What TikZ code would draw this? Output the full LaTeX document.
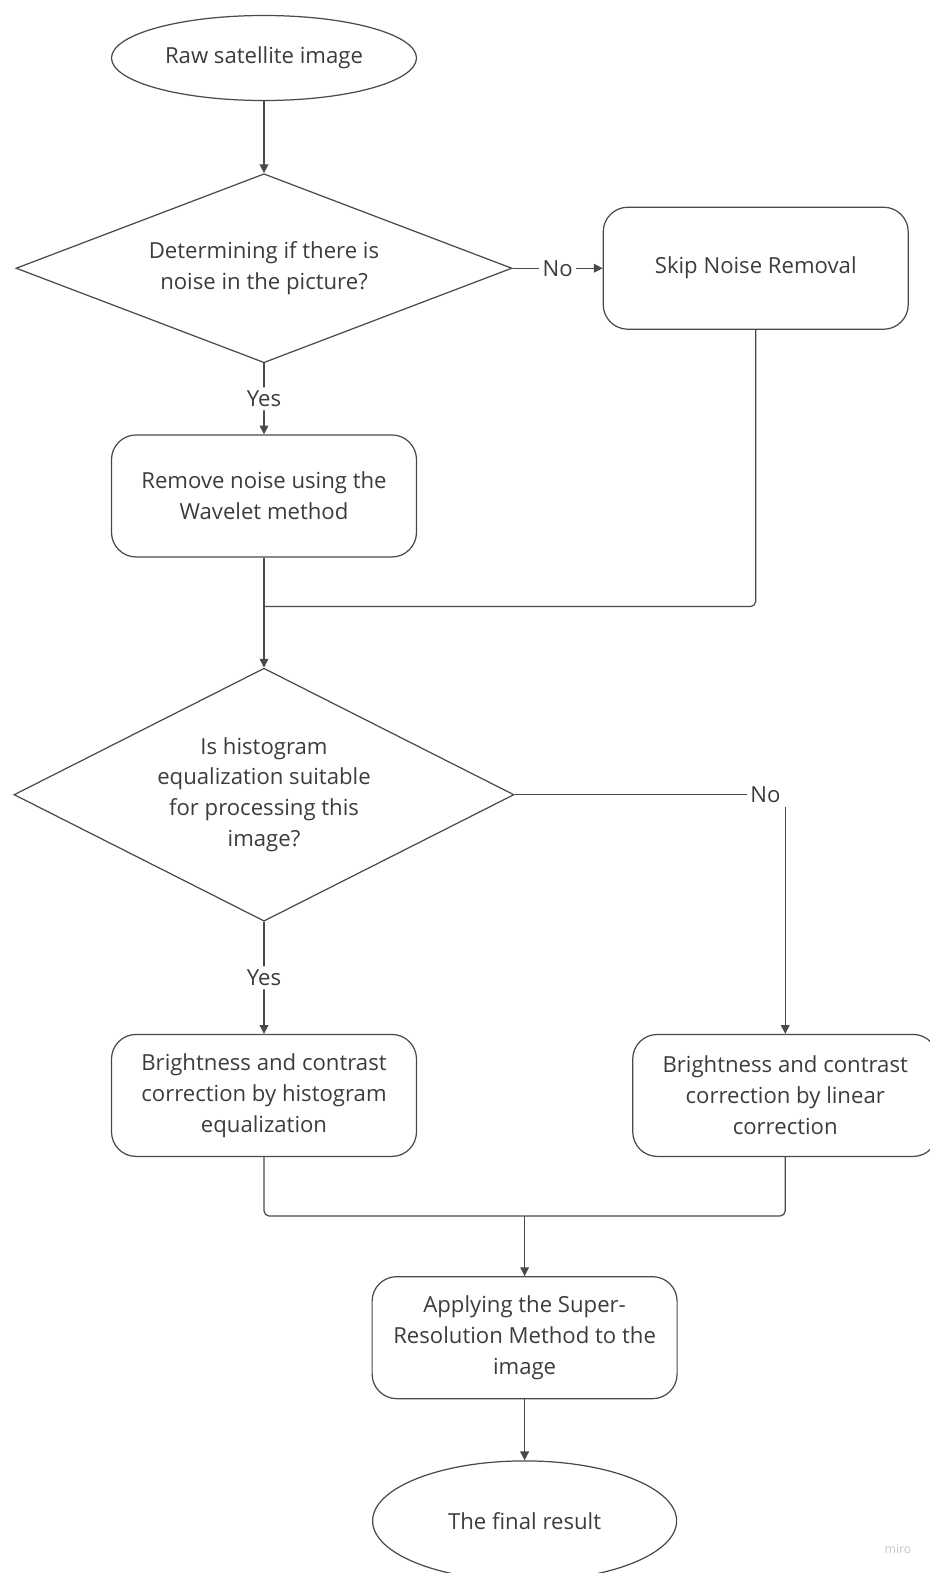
\documentclass[tikz,border=0pt]{standalone}
\usepackage{fontspec}
\setmainfont{Open Sans}
\usetikzlibrary{positioning, arrows.meta, shapes.geometric, calc}

\definecolor{inkgray}{HTML}{3C3C3C}
\definecolor{edgegray}{HTML}{4A4A4A}

\begin{document}
\begin{tikzpicture}[
        node distance=1.4cm and 1.8cm,
        every node/.style={text=inkgray, font=\fontsize{12.6}{17.6}\selectfont},
        procbox/.style={rectangle, rounded corners=14pt, draw=edgegray, line width=0.7pt, minimum width=6.1cm, minimum height=2.44cm, align=center, inner sep=2pt},
        decbox/.style={diamond, draw=edgegray, line width=0.7pt, align=center, inner sep=0pt},
        termbox/.style={ellipse, draw=edgegray, line width=0.7pt, minimum width=6.1cm, align=center, inner sep=0pt},
        lbl/.style={fill=white, inner sep=2pt},
        conn/.style={draw=edgegray, line width=0.7pt, rounded corners=3pt},
        arr/.style={conn, -{Triangle[length=5pt, width=5pt]}},
    ]
        \useasboundingbox (0,0) rectangle (18.58,-31.46);

        \node[termbox, minimum height=1.7cm] (raw) at (5.28,-1.16) {Raw satellite image};
        \node[decbox, shape aspect=2.62, minimum width=9.92cm, minimum height=3.78cm, below=1.44cm of raw] (noiseq) {Determining if there is\\noise in the picture?};
        \node[procbox, right=1.8cm of noiseq] (skip) {Skip Noise Removal};
        \node[procbox, below=1.42cm of noiseq] (wavelet) {Remove noise using the\\Wavelet method};

        \node[decbox, shape aspect=1.98, minimum width=10cm, minimum height=5.06cm, below=2.2cm of wavelet] (histq) {Is histogram\\equalization suitable\\for processing this\\image?};
        \node[procbox, below=2.24cm of histq] (histeq) {Brightness and contrast\\correction by histogram\\equalization};
        \node[procbox, right=4.3cm of histeq] (lincorr) {Brightness and contrast\\correction by linear\\correction};

        \node[procbox, below=2.38cm of $(histeq.south)!0.5!(lincorr.south)$] (superres) {Applying the Super-\\Resolution Method to the\\image};
        \node[termbox, minimum width=6.08cm, minimum height=2.4cm, below=1.22cm of superres] (final) {The final result};

        \node[lbl, right=4.64cm of histq.east] (nohist) {No};
        \node[text=gray!45, font=\fontsize{7}{8}\selectfont] (brand) at (17.96,-30.98) {miro};

        \coordinate (joinA) at ($(wavelet.south)+(0,-0.98)$);
        \coordinate (joinB) at ($(superres.north)+(0,1.2)$);

        % first branch
        \draw[arr] (raw) -- (noiseq);
        \draw[arr] (noiseq.east) -- node[lbl] {No} (skip.west);
        \draw[arr] (noiseq.south) -- node[lbl] {Yes} (wavelet.north);
        \draw[conn] (skip.south) |- (joinA);
        \draw[arr] (wavelet.south) -- (histq.north);

        % second branch
        \draw[conn] (histq.east) -- (nohist.west);
        \draw[arr] (nohist.south -| lincorr.north) -- (lincorr.north);
        \draw[arr] (histq.south) -- node[lbl] {Yes} (histeq.north);

        % merge
        \draw[conn] (histeq.south) |- (joinB);
        \draw[conn] (lincorr.south) |- (joinB);
        \draw[arr] (joinB) -- (superres.north);
        \draw[arr] (superres) -- (final);
    \end{tikzpicture}
\end{document}
